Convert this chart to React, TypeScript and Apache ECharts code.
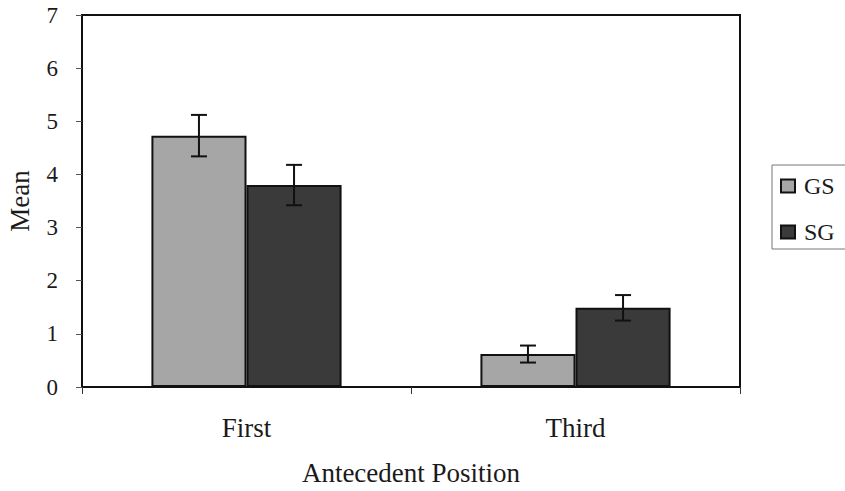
import React, { useEffect, useRef } from "react";
import * as echarts from "echarts";

const categories = ["First", "Third"];
const seriesNames = ["GS", "SG"];
const gsValues = [4.73, 0.62];
const sgValues = [3.8, 1.49];
const gsErrors = [0.39, 0.16];
const sgErrors = [0.38, 0.24];
const yTicks = [0, 1, 2, 3, 4, 5, 6, 7];

const FONT = "Liberation Serif";
const BAR_FRAC = 0.289;

export default function App() {
  const ref = useRef<HTMLDivElement>(null);
  useEffect(() => {
    if (!ref.current) return;
    const chart = echarts.init(ref.current, null, { renderer: "svg" });

    const errSeries = (name: string, values: number[], errs: number[], sign: number) => ({
      type: "custom",
      name: name + "-err",
      z: 5,
      silent: true,
      data: values.map((v, i) => [i, v, errs[i]]),
      encode: { x: 0, y: 1 },
      renderItem: (params: any, api: any) => {
        const idx = api.value(0);
        const v = api.value(1);
        const e = api.value(2);
        const band = api.size([1, 0])[0];
        const off = (band * BAR_FRAC) / 2 * sign;
        const top = api.coord([idx, v + e]);
        const bot = api.coord([idx, v - e]);
        const x = top[0] + off;
        const cap = 8;
        const style = { stroke: "#111", lineWidth: 2 };
        return {
          type: "group",
          children: [
            { type: "line", shape: { x1: x, y1: top[1], x2: x, y2: bot[1] }, style },
            { type: "line", shape: { x1: x - cap, y1: top[1], x2: x + cap, y2: top[1] }, style },
            { type: "line", shape: { x1: x - cap, y1: bot[1], x2: x + cap, y2: bot[1] }, style },
          ],
        };
      },
    });

    chart.setOption({
      animation: false,
      backgroundColor: "#ffffff",
      textStyle: { fontFamily: FONT, color: "#1a1a1a" },
      grid: {
        left: 82,
        right: 105,
        top: 15,
        bottom: 104,
        outerBoundsMode: "none",
        containLabel: false,
        show: true,
        borderColor: "#111",
        borderWidth: 2,
        backgroundColor: "transparent",
      },
      legend: {
        data: seriesNames,
        orient: "vertical",
        left: 772,
        top: 165,
        padding: [9, 30, 5, 8],
        itemGap: 22,
        itemWidth: 14,
        itemHeight: 13,
        icon: "rect",
        borderColor: "#777",
        borderWidth: 1,
        textStyle: { fontFamily: FONT, fontSize: 24, color: "#1a1a1a", padding: [0, 0, 0, 4] },
      },
      xAxis: {
        type: "category",
        data: categories,
        name: "Antecedent Position",
        nameLocation: "middle",
        nameGap: 72,
        nameTextStyle: { fontFamily: FONT, fontSize: 27, color: "#1a1a1a" },
        axisLine: { lineStyle: { color: "#111", width: 2 } },
        axisTick: { show: true, length: 7, lineStyle: { color: "#333", width: 1 } },
        axisLabel: { fontFamily: FONT, fontSize: 27, color: "#1a1a1a", margin: 27 },
      },
      yAxis: {
        type: "value",
        min: yTicks[0],
        max: yTicks[yTicks.length - 1],
        interval: 1,
        name: "Mean",
        nameLocation: "middle",
        nameRotate: 90,
        nameGap: 49,
        nameTextStyle: { fontFamily: FONT, fontSize: 27, color: "#1a1a1a" },
        axisLine: { show: true, lineStyle: { color: "#111", width: 2 } },
        axisTick: { show: true, length: 6, lineStyle: { color: "#555", width: 1 } },
        axisLabel: { fontFamily: FONT, fontSize: 23, color: "#1a1a1a", margin: 24 },
        splitLine: { show: false },
      },
      series: [
        {
          type: "bar",
          name: seriesNames[0],
          data: gsValues,
          barWidth: (BAR_FRAC * 100).toFixed(1) + "%",
          barGap: "0%",
          itemStyle: { color: "#a6a6a6", borderColor: "#111", borderWidth: 2 },
        },
        {
          type: "bar",
          name: seriesNames[1],
          data: sgValues,
          barWidth: (BAR_FRAC * 100).toFixed(1) + "%",
          barGap: "0%",
          itemStyle: { color: "#3a3a3a", borderColor: "#111", borderWidth: 2 },
        },
        errSeries(seriesNames[0], gsValues, gsErrors, -1),
        errSeries(seriesNames[1], sgValues, sgErrors, 1),
      ],
    });
    return () => chart.dispose();
  }, []);
  return <div ref={ref} style={{ width: 845, height: 491, position: "fixed", left: 0, top: 0 }} />;
}
